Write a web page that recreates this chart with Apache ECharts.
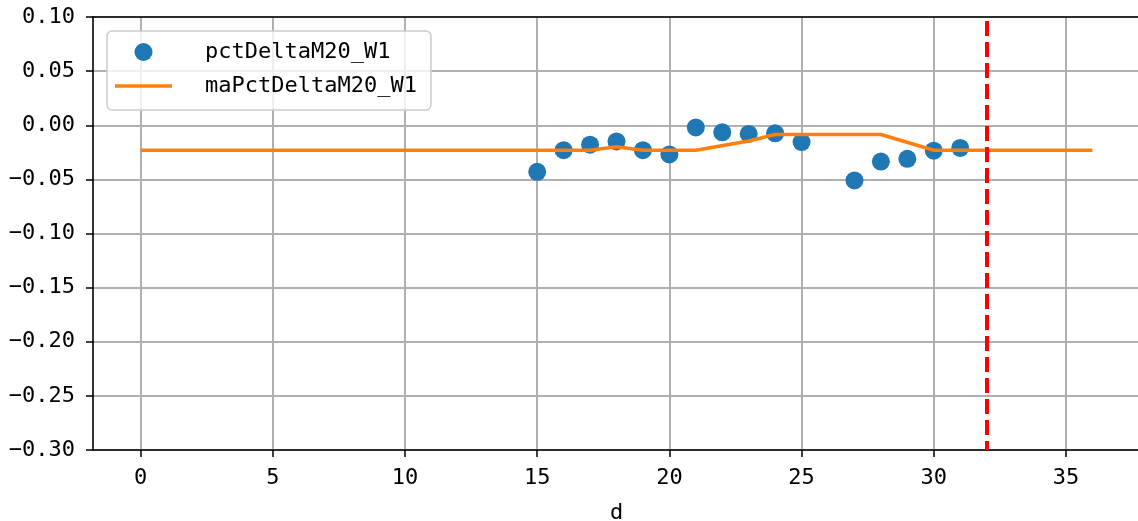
<!DOCTYPE html>
<html>
<head>
<meta charset="utf-8">
<script src="https://cdn.jsdelivr.net/npm/echarts@6/dist/echarts.min.js"></script>
<style>
  html, body { margin: 0; padding: 0; background: #fff; }
  #chart { width: 1138px; height: 521px; }
</style>
</head>
<body>
<div id="chart"></div>
<script>
// 散点数据
const pctDays = [15, 16, 17, 18, 19, 20, 21, 22, 23, 24, 25, 27, 28, 29, 30, 31]
const pctValues = [-0.043, -0.023, -0.018, -0.015, -0.023, -0.027, -0.002, -0.0065,
  -0.008, -0.0075, -0.0155, -0.051, -0.0335, -0.031, -0.0235, -0.021]

// 均线数据
const maDays = [0, 17, 18, 19, 21, 23, 24, 28, 30, 36]
const maValues = [-0.0231, -0.0231, -0.0198, -0.0231, -0.0231, -0.0145, -0.0085, -0.0085, -0.0231, -0.0231]

// 刻度
const xTicks = [0, 5, 10, 15, 20, 25, 30, 35]
const cutoffDay = 32

const font = 'DejaVu Sans Mono'
const chart = echarts.init(document.getElementById('chart'))

const option = {
  animation: false,
  backgroundColor: '#fff',
  grid: { left: 93, right: -2, top: 17, bottom: 71, outerBoundsMode: 'none', containLabel: false },
  legend: {
    orient: 'vertical',
    left: 107,
    top: 31,
    padding: [10, 14, 13, 8],
    itemWidth: 57,
    itemHeight: 18,
    itemGap: 12,
    backgroundColor: 'rgba(255,255,255,0.8)',
    borderColor: '#cccccc',
    borderWidth: 1.5,
    borderRadius: 5,
    textStyle: { fontFamily: font, fontSize: 22, color: '#000', lineHeight: 22, padding: [0, 0, 0, 28] },
    data: [
      { name: 'pctDeltaM20_W1', icon: 'circle' },
      { name: 'maPctDeltaM20_W1', icon: 'path://M0,0L57,0L57,3.5L0,3.5Z' }
    ]
  },
  xAxis: [
    {
      type: 'value',
      min: -1.8,
      max: 37.8,
      name: 'd',
      nameLocation: 'middle',
      nameGap: 52,
      nameTextStyle: { fontFamily: font, fontSize: 22, color: '#000' },
      axisLine: { show: true, onZero: false, lineStyle: { color: '#000', width: 1.6 } },
      axisTick: { show: true, length: 7, customValues: xTicks, lineStyle: { color: '#000', width: 1.5 } },
      axisLabel: { customValues: xTicks, margin: 17, fontFamily: font, fontSize: 22, color: '#000' },
      splitLine: { show: true, lineStyle: { color: '#b0b0b0', width: 2 } }
    },
    {
      type: 'value',
      position: 'top',
      min: -1.8,
      max: 37.8,
      axisLine: { show: true, onZero: false, lineStyle: { color: '#000', width: 1.6 } },
      axisTick: { show: false },
      axisLabel: { show: false },
      splitLine: { show: false }
    }
  ],
  yAxis: {
    type: 'value',
    min: -0.3,
    max: 0.1,
    interval: 0.05,
    axisLine: { show: true, onZero: false, lineStyle: { color: '#000', width: 1.6 } },
    axisTick: { show: true, length: 7, lineStyle: { color: '#000', width: 1.5 } },
    axisLabel: {
      margin: 18,
      fontFamily: font,
      fontSize: 22,
      color: '#000',
      formatter: (v) => (v < -1e-9 ? '\u2212' : '') + Math.abs(v).toFixed(2)
    },
    splitLine: { show: true, lineStyle: { color: '#b0b0b0', width: 2 } }
  },
  series: [
    {
      name: 'pctDeltaM20_W1',
      type: 'scatter',
      symbol: 'circle',
      symbolSize: 18,
      itemStyle: { color: '#1f77b4', opacity: 1 },
      data: pctDays.map((d, i) => [d, pctValues[i]]),
      z: 3
    },
    {
      name: 'maPctDeltaM20_W1',
      type: 'line',
      symbol: 'none',
      lineStyle: { color: '#ff7f0e', width: 3.5 },
      itemStyle: { color: '#ff7f0e' },
      data: maDays.map((d, i) => [d, maValues[i]]),
      z: 4,
      markLine: {
        silent: true,
        symbol: 'none',
        label: { show: false },
        lineStyle: { color: '#ff0000', width: 4, type: [15, 6], dashOffset: 6 },
        data: [{ xAxis: cutoffDay }]
      }
    }
  ]
}

chart.setOption(option)
</script>
</body>
</html>
